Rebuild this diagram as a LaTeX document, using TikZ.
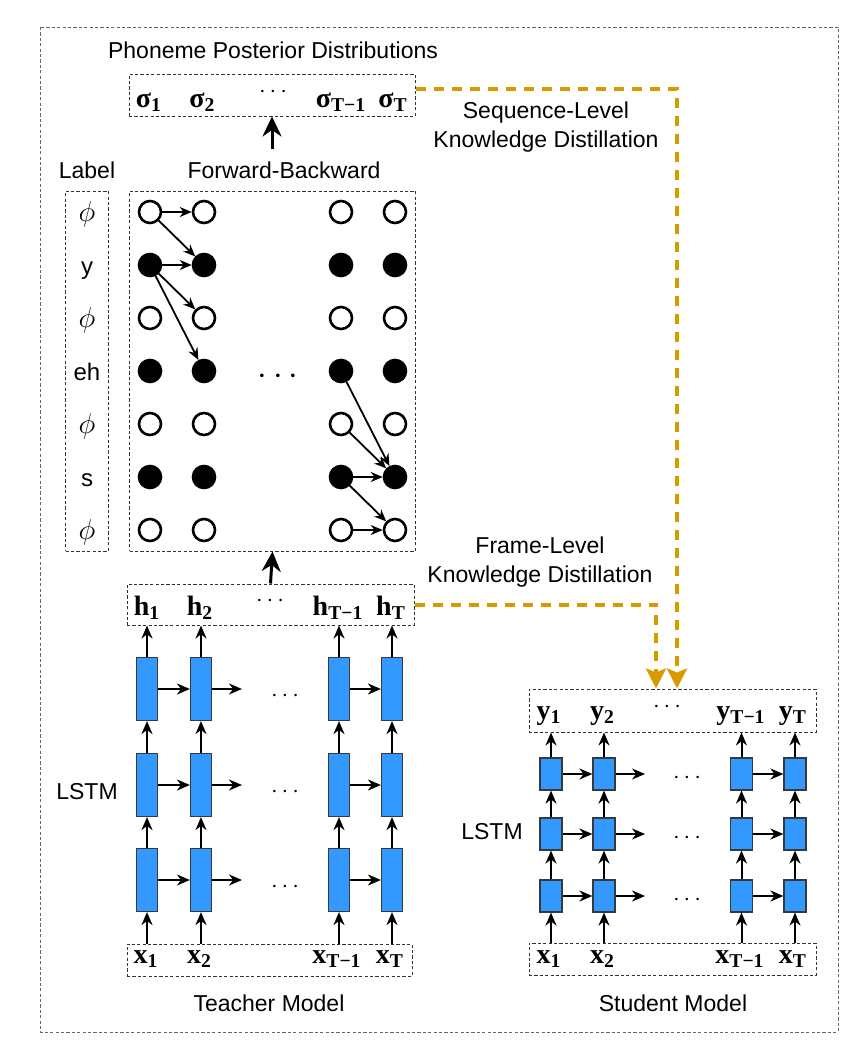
\documentclass[tikz,border=0pt]{standalone}
\usepackage{fontspec}
\setmainfont{Liberation Sans}
\newfontfamily\seqfont{Liberation Serif}
\usetikzlibrary{positioning,arrows.meta}

\definecolor{kdgold}{RGB}{215,155,0}
\definecolor{lstmblue}{RGB}{51,153,255}
\definecolor{cellline}{RGB}{54,57,61}
\newcommand{\seqsym}[2]{{\seqfont\bfseries\fontsize{14}{16}\selectfont #1\textsubscript{#2}}}
\newcommand{\blank}{{\fontsize{15}{16}\selectfont$\phi$}}

\tikzset{
	dbox/.style={draw=black!80, dash pattern=on 1.6pt off 1.1pt, line width=0.5pt, inner sep=0pt},
	txt/.style={font=\fontsize{11.5}{14.5}\selectfont, align=center},
	lbl/.style={font=\fontsize{12}{14}\selectfont},
	openstate/.style={circle, draw, line width=1.3pt, minimum size=11pt, inner sep=0pt, fill=white},
	fullstate/.style={openstate, fill=black},
	tcell/.style={draw=cellline, fill=lstmblue, line width=0.6pt, minimum width=10.5pt, minimum height=31.5pt, inner sep=0pt},
	scell/.style={tcell, minimum width=11pt, minimum height=16pt},
	arr/.style={-{Stealth[length=6.5pt,width=5.5pt]}, line width=1pt},
	thinarr/.style={-{Stealth[length=6pt,width=5pt]}, line width=0.9pt},
	fatarr/.style={-{Stealth[length=10pt,width=9.5pt]}, line width=1.5pt},
	kd/.style={draw=kdgold, line width=2pt, dash pattern=on 5pt off 4pt, -{Stealth[length=10pt,width=10pt,inset=2pt]}},
	dots/.style={font=\fontsize{12}{12}\selectfont, inner sep=0pt}
}

\begin{document}
\begin{tikzpicture}[x=0.5pt,y=-0.5pt]
	\useasboundingbox (0,0) rectangle (866,1061);
	\draw[dbox, draw=black!60] (40,27) rectangle (838,1032);

	\node[txt] (ppd) at (273,50) {Phoneme Posterior Distributions};
	\node[dbox, minimum width=143pt, minimum height=21pt] (sigbox) at (272,95) {};
	\foreach \c/\x/\s in {1/149/1,2/202.5/2,3/341/T−1,4/393/T}
		\node[anchor=base] (sig-\c) at (\x,107) {\seqsym{σ}{\s}};
	\node[dots] (sigdots) at (273,92) {$\cdots$};

	\node[txt] (fb) at (284,170) {Forward-Backward};
	\node[txt] (lbltitle) at (87,170) {Label};
	\coordinate (fbtop) at (272,149);
	\draw[fatarr] (fbtop) -- (sigbox.south);

	\node[dbox, minimum width=21.5pt, minimum height=180pt] (lblbox) at (87,371) {};
	\node[dbox, minimum width=143pt, minimum height=180pt] (trellis) at (272.5,371) {};
	\foreach \r/\s/\lab in {1/openstate/\blank,2/fullstate/y,3/openstate/\blank,4/fullstate/eh,5/openstate/\blank,6/fullstate/s,7/openstate/\blank}{
		\node[lbl, anchor=base] (lab-\r) at (87,{168+53*\r}) {\lab};
		\foreach \c/\x in {1/150,2/204,3/341,4/395}
			\node[\s] (st-\r-\c) at (\x,{159+53*\r}) {};
	}
	\foreach \a/\b in {1-1/1-2,1-1/2-2,2-1/2-2,2-1/3-2,2-1/4-2,4-3/6-4,5-3/6-4,6-3/6-4,6-3/7-4,7-3/7-4}
		\draw[thinarr] (st-\a) -- (st-\b);
	\node[font=\fontsize{16}{16}\selectfont, inner sep=0pt] (tdots) at (278,377) {$\cdots$};

	\node[txt] (framekd) at (540,562) {Frame-Level\\Knowledge Distillation};
	\node[txt] (seqkd) at (546,127) {Sequence-Level\\Knowledge Distillation};

	\node[dbox, minimum width=143.5pt, minimum height=20.5pt] (hbox) at (270.5,604.5) {};
	\foreach \c/\x/\s in {1/147/1,2/200/2,3/338/T−1,4/391/T}
		\node[anchor=base] (h-\c) at (\x,615) {\seqsym{h}{\s}};
	\node[dots] (hdots) at (270,601) {$\cdots$};
	\draw[fatarr] (hbox.north) -- (trellis.south);

	\foreach \l/\y in {1/689,2/785,3/880}{
		\foreach \c/\x in {1/147,2/201,3/339,4/392}
			\node[tcell] (t-\l-\c) at (\x,\y) {};
		\coordinate (tend-\l) at (242,\y);
		\draw[arr] (t-\l-1) -- (t-\l-2);
		\draw[arr] (t-\l-2) -- (tend-\l);
		\draw[arr] (t-\l-3) -- (t-\l-4);
		\node[dots] at (285,{\y+7}) {$\cdots$};
	}
	\node[dbox, minimum width=142.5pt, minimum height=16pt] (txbox) at (269.5,960) {};
	\foreach \c/\x/\s in {1/146/1,2/199.5/2,3/337/T−1,4/390/T}
		\node[anchor=base] (tx-\c) at (\x,963) {\seqsym{x}{\s}};
	\foreach \c in {1,...,4}{
		\draw[arr] (txbox.north -| t-3-\c) -- (t-3-\c);
		\draw[arr] (t-3-\c) -- (t-2-\c);
		\draw[arr] (t-2-\c) -- (t-1-\c);
		\draw[arr] (t-1-\c) -- (hbox.south -| t-1-\c);
	}
	\node[txt] (tlstm) at (87,792) {LSTM};
	\node[txt] (tmodel) at (269,1003) {Teacher Model};

	\node[dbox, minimum width=143.5pt, minimum height=21.5pt] (ybox) at (672.5,710.5) {};
	\foreach \c/\x/\s in {1/549/1,2/602.5/2,3/741/T−1,4/793/T}
		\node[anchor=base] (y-\c) at (\x,719) {\seqsym{y}{\s}};
	\node[dots] (ydots) at (667,707) {$\cdots$};
	\foreach \l/\y in {1/774,2/834,3/896}{
		\foreach \c/\x in {1/551,2/604,3/741.5,4/795}
			\node[scell] (s-\l-\c) at (\x,\y) {};
		\coordinate (send-\l) at (645,\y);
		\draw[arr] (s-\l-1) -- (s-\l-2);
		\draw[arr] (s-\l-2) -- (send-\l);
		\draw[arr] (s-\l-3) -- (s-\l-4);
		\node[dots] at (687,{\y+4}) {$\cdots$};
	}
	\node[dbox, minimum width=143.5pt, minimum height=16pt] (sxbox) at (672.5,959) {};
	\foreach \c/\x/\s in {1/549/1,2/602.5/2,3/740/T−1,4/793/T}
		\node[anchor=base] (sx-\c) at (\x,963) {\seqsym{x}{\s}};
	\foreach \c in {1,...,4}{
		\draw[arr] (sxbox.north -| s-3-\c) -- (s-3-\c);
		\draw[arr] (s-3-\c) -- (s-2-\c);
		\draw[arr] (s-2-\c) -- (s-1-\c);
		\draw[arr] (s-1-\c) -- (ybox.south -| s-1-\c);
	}
	\node[txt] (slstm) at (492,832) {LSTM};
	\node[txt] (smodel) at (673,1003) {Student Model};

	\draw[kd] ([yshift=3pt]sigbox.east) -| ([xshift=2.25pt]ybox.north);
	\draw[kd] (hbox.east) -| ([xshift=-8.25pt]ybox.north);
\end{tikzpicture}
\end{document}
